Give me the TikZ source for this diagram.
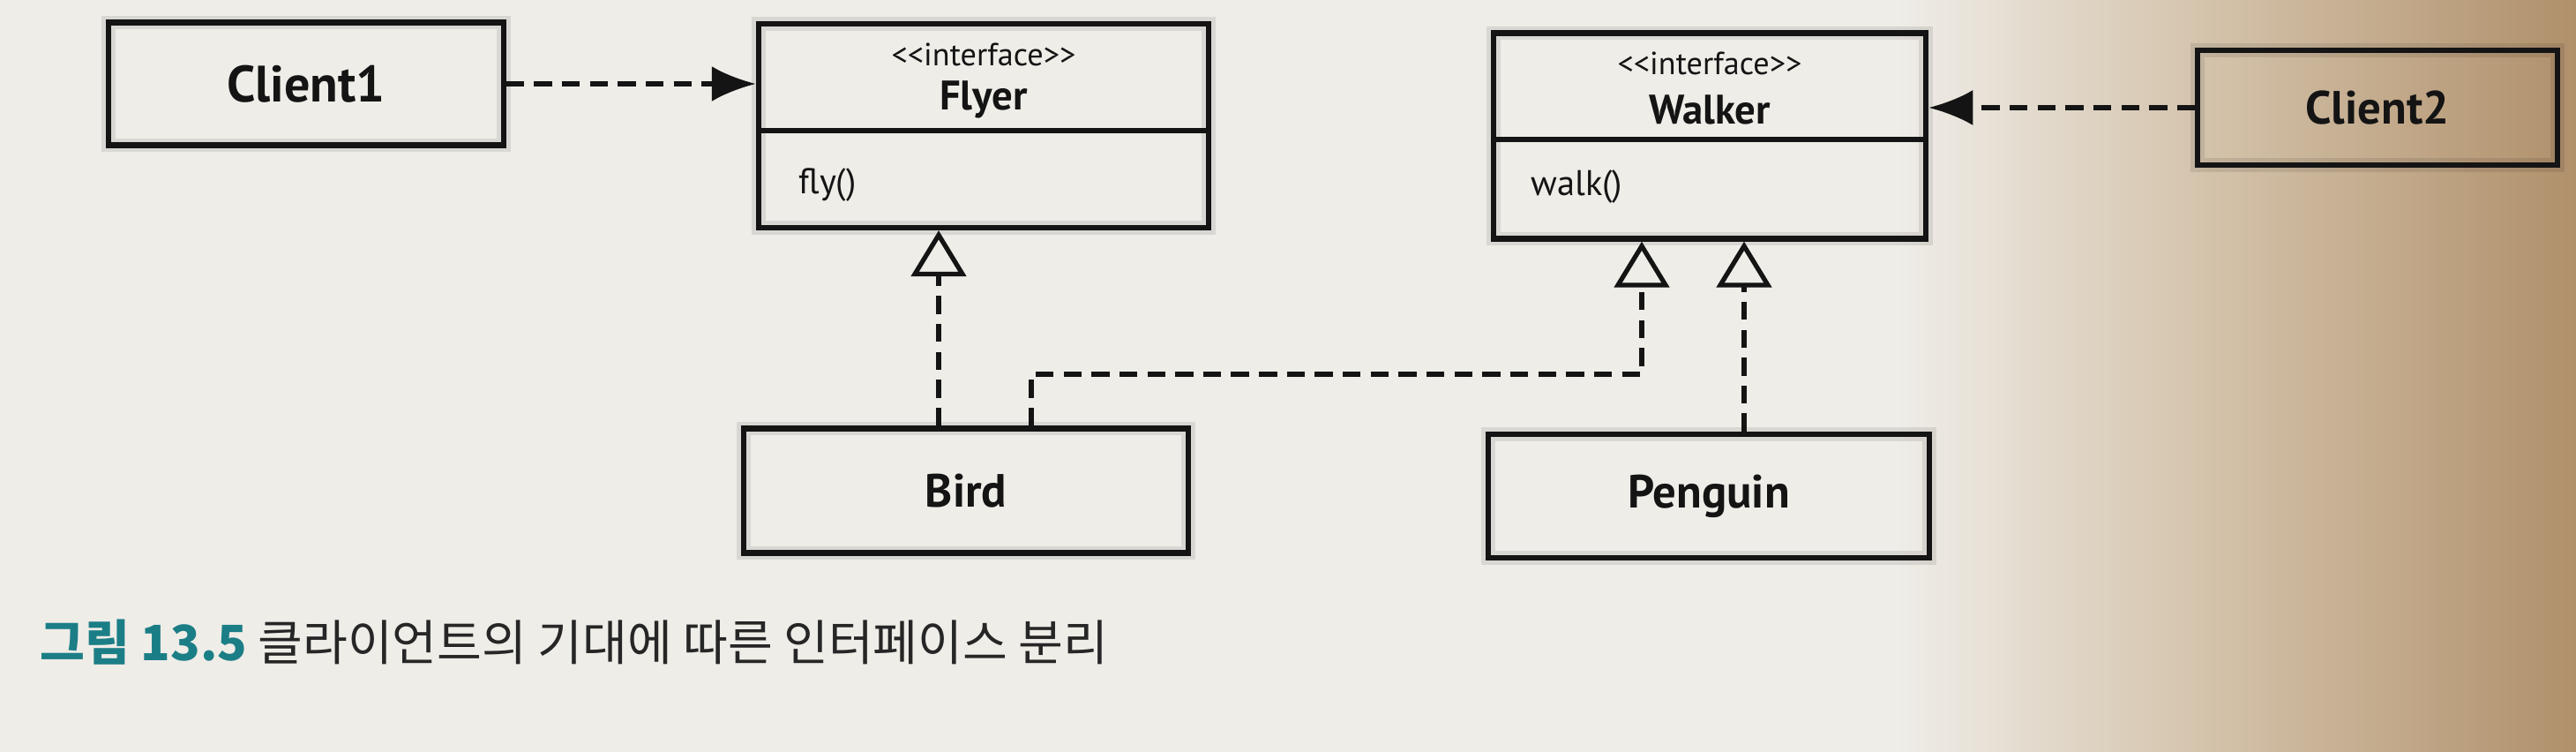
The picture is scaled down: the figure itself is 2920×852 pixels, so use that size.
\documentclass[tikz,border=0pt]{standalone}
\usepackage{fontspec}
\setmainfont{PT Sans}
\newfontfamily\kr{Noto Sans CJK KR}
\usetikzlibrary{arrows.meta}
\definecolor{paperA}{HTML}{EFEDE8}
\definecolor{paperB}{HTML}{D4C3AB}
\definecolor{paperC}{HTML}{B0906B}
\definecolor{ink}{HTML}{141414}
\definecolor{capteal}{HTML}{1B7E86}
\definecolor{capink}{HTML}{262626}
\begin{document}
\begin{tikzpicture}[x=0.01cm,y=-0.01cm,
  box/.style={draw=ink, line width=1.75pt, inner sep=0pt,
    preaction={draw=black, opacity=0.09, line width=4.5pt}},
  bigname/.style={font=\bfseries\fontsize{15pt}{18pt}\selectfont, text=ink},
  ifname/.style={font=\bfseries\fontsize{13.3pt}{16pt}\selectfont, text=ink},
  stereo/.style={font=\fontsize{10.3pt}{12pt}\selectfont, text=ink},
  meth/.style={font=\fontsize{11.5pt}{13pt}\selectfont, text=ink, anchor=west},
  dashln/.style={draw=ink, line width=1.5pt, dash pattern=on 5.8pt off 3.2pt},
  dep/.style={dashln, -{Latex[length=0.50cm,width=0.40cm]}},
  real/.style={dashln, -{Triangle[open,length=0.52cm,width=0.62cm,line width=1.5pt]}}
]
% background paper
\useasboundingbox (0,0) rectangle (2920,852);
\fill[paperA] (0,0) rectangle (2152,852);
\shade[left color=paperA, right color=paperB] (2150,0) rectangle (2502,852);
\shade[left color=paperB, right color=paperC] (2500,0) rectangle (2920,852);

% boxes
\node[box, minimum width=4.47cm, minimum height=1.39cm, bigname, font=\bfseries\fontsize{16.5pt}{19pt}\selectfont] (client1) at (347,95) {Client1};
\node[box, minimum width=5.10cm, minimum height=2.31cm] (flyer) at (1115,142.5) {};
\node[box, minimum width=4.90cm, minimum height=2.33cm] (walker) at (1938,154) {};
\node[box, minimum width=4.07cm, minimum height=1.30cm, bigname] (client2) at (2695,122) {Client2};
\node[box, minimum width=5.04cm, minimum height=1.41cm, bigname] (bird) at (1095,556) {Bird};
\node[box, minimum width=4.99cm, minimum height=1.40cm, bigname] (penguin) at (1937,562) {Penguin};

% interface compartments
\coordinate (fdiv) at (0,148);
\coordinate (wdiv) at (0,158);
\draw[ink, line width=1.75pt] (flyer.west |- fdiv) -- (flyer.east |- fdiv);
\draw[ink, line width=1.75pt] (walker.west |- wdiv) -- (walker.east |- wdiv);
\node[stereo] (flyerst) at (1115,62) {<\kern0pt<interface>\kern0pt>};
\node[ifname] (flyern) at (1115,113) {Flyer};
\node[meth] (flym) at (893,210) {fly()};
\node[stereo] (walkerst) at (1938,72) {<\kern0pt<interface>\kern0pt>};
\node[ifname] (walkern) at (1938,124) {Walker};
\node[meth] (walkm) at (1723,212) {walk()};

% connectors
\coordinate (fx) at (1064,0);
\coordinate (bx) at (1169,424);
\coordinate (wx1) at (1861,0);
\coordinate (wx2) at (1977,0);
\draw[dep] (client1.east) -- (flyer.west |- client1.east);
\draw[dep] (client2.west) -- (walker.east |- client2.west);
\draw[real] (bird.north -| fx) -- (flyer.south -| fx);
\draw[real] (bird.north -| bx) -- (bx) -| (walker.south -| wx1);
\draw[real] (penguin.north -| wx2) -- (walker.south -| wx2);

% caption
\node[anchor=west, inner sep=0pt, text=capink, font=\kr\fontsize{15.7pt}{18pt}\selectfont] (cap) at (45,728)
  {\textcolor{capteal}{\bfseries 그림 13.5} 클라이언트의 기대에 따른 인터페이스 분리};
\end{tikzpicture}
\end{document}
